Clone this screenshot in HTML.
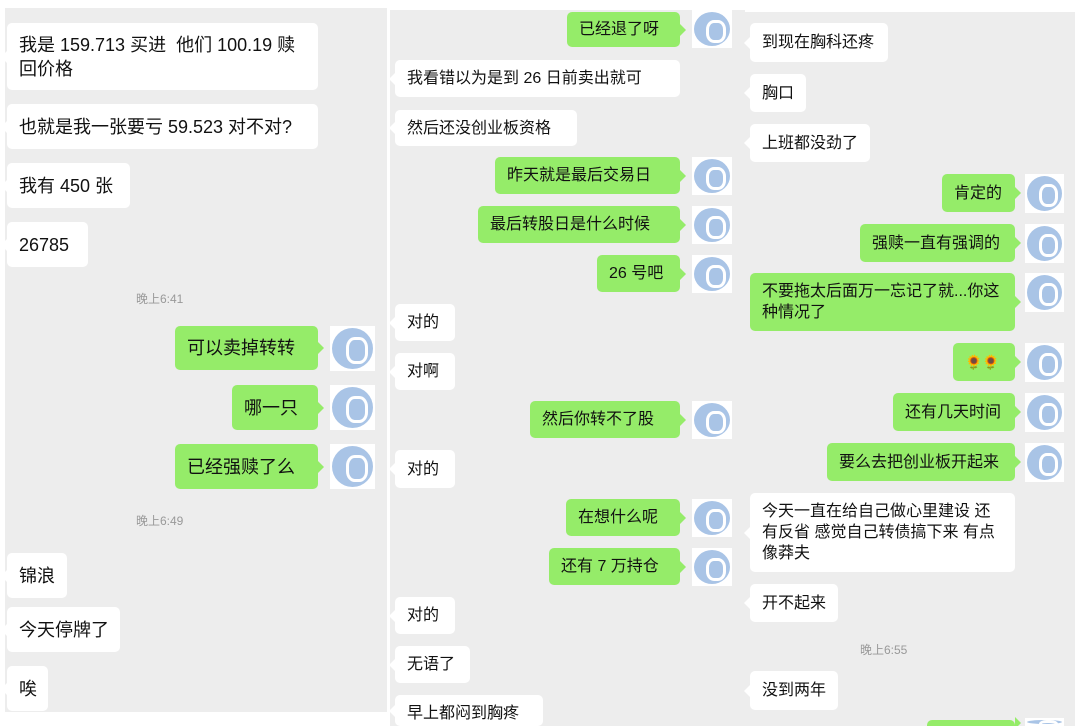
<!DOCTYPE html>
<html style="width:1080px;height:726px;overflow:hidden"><head><meta charset="utf-8"><style>
body{margin:0;width:1080px;height:726px;background:#fff;position:relative;overflow:hidden;font-family:"Liberation Sans","Noto Sans CJK SC",sans-serif;color:#111}
.p{position:absolute;background:#ededed}
.b{position:absolute;display:flex;align-items:center;padding:0 12px;box-sizing:border-box;border-radius:5px;background:#fff;font-size:16px;line-height:21px;white-space:nowrap}
.g{background:#95ec69}
.g:after{content:"";position:absolute;right:-6px;top:50%;margin-top:-6px;border-left:6px solid #95ec69;border-top:6px solid transparent;border-bottom:6px solid transparent}
.w:before{content:"";position:absolute;left:-6px;top:50%;margin-top:-6px;border-right:6px solid #fff;border-top:6px solid transparent;border-bottom:6px solid transparent}
.l{font-size:18px;line-height:24px}
.m{white-space:normal}
.a{position:absolute;background:#fff;overflow:hidden}
.a:after{content:"";position:absolute;left:2px;top:2px;right:2px;bottom:2px;border-radius:50%;background:#a9c4e6}
.a:before{content:"";position:absolute;left:35%;top:25%;width:35%;height:45%;border:3px solid #fff;border-radius:40%;z-index:1}
.t{position:absolute;font-size:12px;color:#999}
</style></head><body>
<div class="p" style="left:5px;top:8px;width:382px;height:704px"></div>
<div class="p" style="left:390px;top:10px;width:355px;height:716px"></div>
<div class="p" style="left:745px;top:12px;width:330px;height:714px"></div>

<div class="b w l m" style="left:7px;top:23px;width:311px;height:67px">我是 159.713 买进&nbsp;&nbsp;他们 100.19 赎回价格</div>
<div class="b w l" style="left:7px;top:104px;width:311px;height:45px">也就是我一张要亏 59.523&nbsp;对不对?</div>
<div class="b w l" style="left:7px;top:163px;width:123px;height:45px">我有 450 张</div>
<div class="b w l" style="left:7px;top:222px;width:81px;height:45px">26785</div>
<div class="t" style="left:136px;top:290px">晚上6:41</div>
<div class="b g l" style="left:175px;top:326px;width:143px;height:44px">可以卖掉转转</div>
<div class="a" style="left:330px;top:326px;width:45px;height:45px"></div>
<div class="b g l" style="left:232px;top:385px;width:86px;height:45px">哪一只</div>
<div class="a" style="left:330px;top:385px;width:45px;height:45px"></div>
<div class="b g l" style="left:175px;top:444px;width:143px;height:45px">已经强赎了么</div>
<div class="a" style="left:330px;top:444px;width:45px;height:45px"></div>
<div class="t" style="left:136px;top:512px">晚上6:49</div>
<div class="b w l" style="left:7px;top:553px;width:60px;height:45px">锦浪</div>
<div class="b w l" style="left:7px;top:607px;width:113px;height:45px">今天停牌了</div>
<div class="b w l" style="left:7px;top:666px;width:41px;height:45px">唉</div>

<div class="b g" style="left:567px;top:12px;width:113px;height:35px">已经退了呀</div>
<div class="a" style="left:692px;top:10px;width:40px;height:38px"></div>
<div class="b w" style="left:395px;top:60px;width:285px;height:37px">我看错以为是到 26 日前卖出就可</div>
<div class="b w" style="left:395px;top:110px;width:182px;height:36px">然后还没创业板资格</div>
<div class="b g" style="left:495px;top:157px;width:185px;height:37px">昨天就是最后交易日</div>
<div class="a" style="left:692px;top:157px;width:40px;height:38px"></div>
<div class="b g" style="left:478px;top:206px;width:202px;height:37px">最后转股日是什么时候</div>
<div class="a" style="left:692px;top:206px;width:40px;height:38px"></div>
<div class="b g" style="left:597px;top:255px;width:83px;height:37px">26 号吧</div>
<div class="a" style="left:692px;top:255px;width:40px;height:38px"></div>
<div class="b w" style="left:395px;top:304px;width:60px;height:37px">对的</div>
<div class="b w" style="left:395px;top:353px;width:60px;height:37px">对啊</div>
<div class="b g" style="left:530px;top:401px;width:150px;height:37px">然后你转不了股</div>
<div class="a" style="left:692px;top:401px;width:40px;height:38px"></div>
<div class="b w" style="left:395px;top:450px;width:60px;height:38px">对的</div>
<div class="b g" style="left:566px;top:499px;width:114px;height:37px">在想什么呢</div>
<div class="a" style="left:692px;top:499px;width:40px;height:38px"></div>
<div class="b g" style="left:549px;top:548px;width:131px;height:37px">还有 7 万持仓</div>
<div class="a" style="left:692px;top:548px;width:40px;height:38px"></div>
<div class="b w" style="left:395px;top:597px;width:60px;height:37px">对的</div>
<div class="b w" style="left:395px;top:646px;width:75px;height:37px">无语了</div>
<div class="b w" style="left:395px;top:695px;width:148px;height:31px;align-items:flex-start;padding-top:8px">早上都闷到胸疼</div>

<div class="b w" style="left:750px;top:23px;width:138px;height:39px">到现在胸科还疼</div>
<div class="b w" style="left:750px;top:74px;width:56px;height:38px">胸口</div>
<div class="b w" style="left:750px;top:124px;width:120px;height:38px">上班都没劲了</div>
<div class="b g" style="left:942px;top:174px;width:73px;height:38px">肯定的</div>
<div class="a" style="left:1025px;top:174px;width:39px;height:39px"></div>
<div class="b g" style="left:860px;top:224px;width:155px;height:38px">强赎一直有强调的</div>
<div class="a" style="left:1025px;top:224px;width:39px;height:39px"></div>
<div class="b g m" style="left:750px;top:273px;width:265px;height:58px">不要拖太后面万一忘记了就...你这种情况了</div>
<div class="a" style="left:1025px;top:273px;width:39px;height:39px"></div>
<div class="b g" style="left:953px;top:343px;width:62px;height:38px;font-size:14px">🌻🌻</div>
<div class="a" style="left:1025px;top:343px;width:39px;height:39px"></div>
<div class="b g" style="left:893px;top:393px;width:122px;height:38px">还有几天时间</div>
<div class="a" style="left:1025px;top:393px;width:39px;height:39px"></div>
<div class="b g" style="left:827px;top:443px;width:188px;height:38px">要么去把创业板开起来</div>
<div class="a" style="left:1025px;top:443px;width:39px;height:39px"></div>
<div class="b w m" style="left:750px;top:493px;width:265px;height:79px">今天一直在给自己做心里建设 还有反省 感觉自己转债搞下来 有点像莽夫</div>
<div class="b w" style="left:750px;top:584px;width:88px;height:38px">开不起来</div>
<div class="t" style="left:860px;top:641px">晚上6:55</div>
<div class="b w" style="left:750px;top:671px;width:88px;height:39px">没到两年</div>
<div class="b g" style="left:927px;top:720px;width:88px;height:6px;border-radius:5px 5px 0 0"></div>
<div class="a" style="left:1025px;top:718px;width:39px;height:8px"></div>
</body></html>
